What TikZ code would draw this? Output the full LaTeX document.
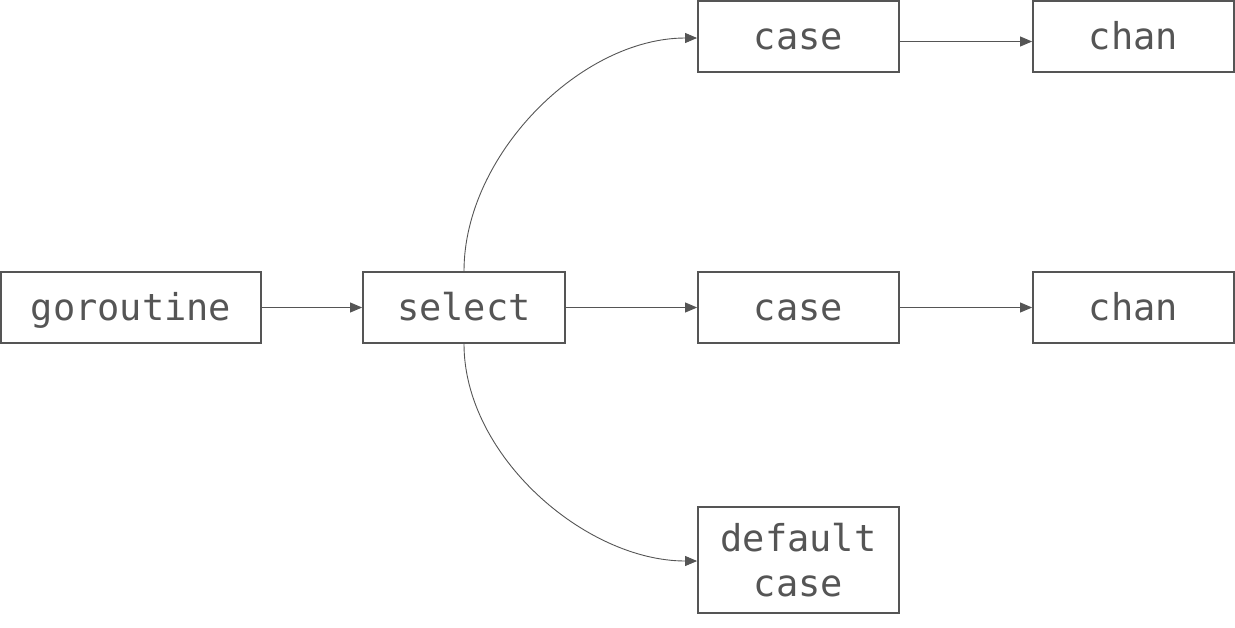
\documentclass[tikz,border=0pt]{standalone}
\usepackage{fontspec}
\setmonofont{DejaVu Sans Mono}
\usetikzlibrary{arrows.meta}
\definecolor{ink}{HTML}{555555}
\begin{document}
\begin{tikzpicture}[x=1pt,y=-1pt,
  box/.style={draw=ink,line width=1.8pt,text=ink,inner sep=0pt,minimum height=71pt,
    font=\ttfamily\fontsize{37}{45}\selectfont,align=center},
  one/.style={text height=28pt,text depth=2pt},
  conn/.style={draw=ink,line width=0.9pt,-{Triangle[length=12pt,width=10pt]}}]
\useasboundingbox (0,0) rectangle (1235,627);
\node[box,one,minimum width=260pt] (gor) at (131,307.5) {goroutine};
\node[box,one,minimum width=202pt] (sel) at (464,307.5) {select};
\node[box,one,minimum width=201pt] (case1) at (798.5,36.5) {case};
\node[box,one,minimum width=201pt] (chan1) at (1133.5,36.5) {chan};
\node[box,one,minimum width=201pt] (case2) at (798.5,307.5) {case};
\node[box,one,minimum width=201pt] (chan2) at (1133.5,307.5) {chan};
\node[box,minimum width=201pt,minimum height=106pt] (def) at (798.5,560) {default\\case};
\draw[conn] (gor.east) -- (sel.west);
\draw[conn] (sel.east) -- (case2.west);
\draw[conn] (case2.east) -- (chan2.west);
\draw[conn] ([yshift=-5pt]case1.east) -- ([yshift=-5pt]chan1.west);
\draw[conn] (sel.north) to[out=90,in=180,looseness=0.9] ([yshift=-1.5pt]case1.west);
\draw[conn] (sel.south) to[out=-90,in=180,looseness=0.9] ([yshift=-1pt]def.west);
\end{tikzpicture}
\end{document}
